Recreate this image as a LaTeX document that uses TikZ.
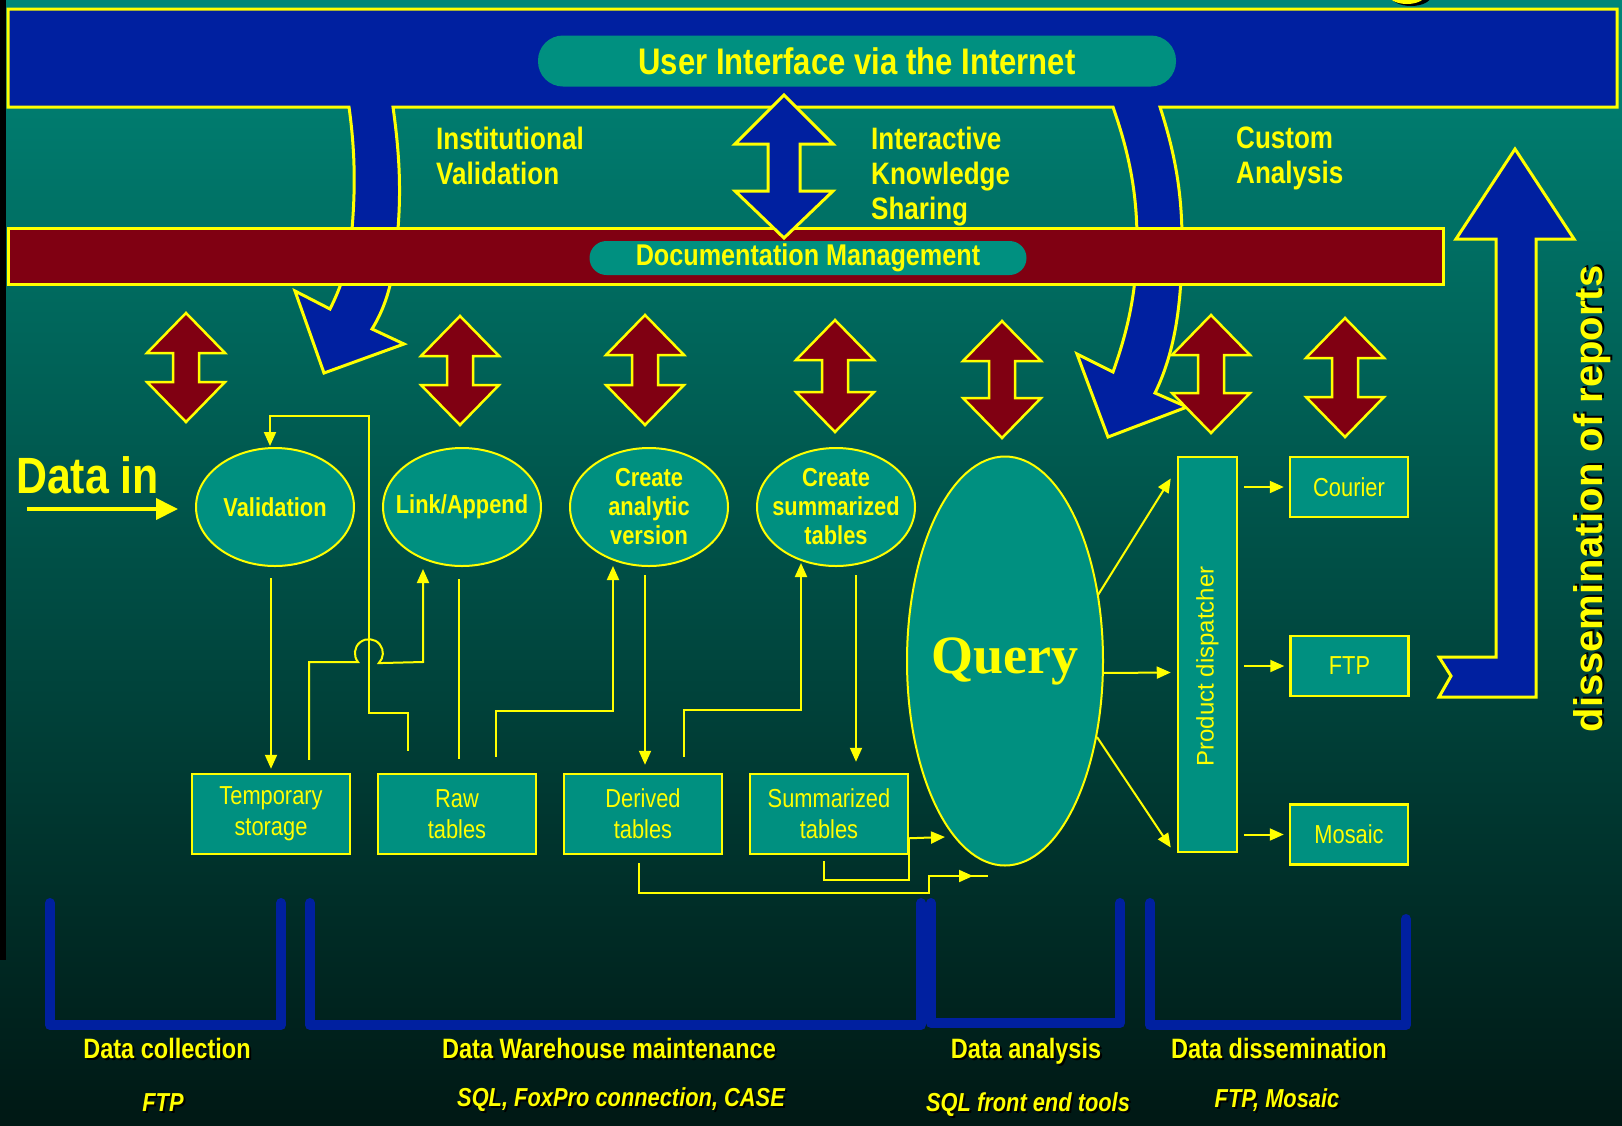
\documentclass[tikz,border=0pt]{standalone}
\usepackage{fontspec}
\setmainfont{Liberation Sans}
\newfontfamily\narrowsf[FakeStretch=0.84]{Liberation Sans}
\newfontfamily\queryfont{Liberation Serif}
\usepackage{tikz}
\usetikzlibrary{shapes.geometric, arrows.meta, positioning, calc}

\definecolor{bgtop}{RGB}{0,134,120}
\definecolor{bgmid}{RGB}{0,82,72}
\definecolor{bgbot}{RGB}{0,24,20}
\definecolor{bandblue}{RGB}{0,32,160}
\definecolor{bandred}{RGB}{128,0,18}
\definecolor{tealbox}{RGB}{0,144,128}
\definecolor{yel}{RGB}{255,255,0}

\newcommand{\shadowed}[1]{\makebox[0pt][l]{\hspace{2pt}\raisebox{-2pt}{\color{black}#1}}#1}

\begin{document}
\begin{tikzpicture}[x=1pt, y=-1pt,
  proc/.style={ellipse, draw=yel, fill=tealbox, line width=2pt, minimum width=158pt, minimum height=118pt, inner xsep=-14pt, inner ysep=-12pt, align=center, text=yel, font=\narrowsf\bfseries\fontsize{26}{29}\selectfont},
  store/.style={rectangle, draw=yel, fill=tealbox, line width=2.5pt, minimum width=158pt, minimum height=80pt, inner sep=0pt, align=center, text=yel, font=\narrowsf\fontsize{26}{31}\selectfont},
  outbox/.style={store, minimum width=118pt, minimum height=60pt},
  pill/.style={rectangle, fill=tealbox, text=yel, inner sep=0pt, font=\narrowsf\bfseries},
  caption/.style={text=yel, align=left, inner sep=0pt, anchor=north west, font=\narrowsf\bfseries\fontsize{31}{35}\selectfont},
  flow/.style={draw=yel, line width=2pt, -{Triangle[length=14pt,width=12pt]}},
  wire/.style={draw=yel, line width=2pt},
  band/.style={draw=yel, line width=3pt, line join=miter},
  vlink/.style={fill=bandred, draw=yel, line width=2.5pt, line join=miter},
  phase/.style={draw=bandblue, line width=10pt, line cap=round, line join=round},
  phaselabel/.style={text=yel, inner sep=0pt, anchor=base, font=\narrowsf\bfseries\fontsize{28}{30}\selectfont},
  tool/.style={text=yel, inner sep=0pt, anchor=base, font=\narrowsf\bfseries\itshape\fontsize{26}{28}\selectfont},
]
% background
\useasboundingbox (0,0) rectangle (1622,1125);
\shade[top color=bgtop, middle color=bgmid, bottom color=bgbot] (0,0) rectangle (1622,1125);
\fill[black] (0,0) rectangle (6,960);
\fill[black] (1411,-4) ellipse [x radius=20, y radius=10];
\fill[yel] (1407,-6) ellipse [x radius=19, y radius=10];

% internet band with its two bent arrows
\filldraw[band, fill=bandblue] (8,9) -- (1617,9) -- (1617,107) -- (1160,107)
  .. controls (1174,150) and (1182,190) .. (1182,240)
  .. controls (1182,300) and (1176,350) .. (1155,393)
  -- (1187,407) -- (1108,437) -- (1077,354) -- (1113,372)
  .. controls (1128,330) and (1137,290) .. (1137,240)
  .. controls (1137,190) and (1128,150) .. (1113,107)
  -- (393,107)
  .. controls (399,150) and (402,190) .. (397,240)
  .. controls (394,270) and (390,300) .. (372,329)
  -- (404,344) -- (324,373) -- (295,291) -- (330,309)
  .. controls (342,285) and (348,265) .. (351,240)
  .. controls (356,190) and (355,150) .. (349,107)
  -- (8,107) -- cycle;
\node[pill, rounded corners=25pt, minimum width=638pt, minimum height=51pt, font=\narrowsf\bfseries\fontsize{37}{40}\selectfont] (ui) at (857,61) {User Interface via the Internet};

% documentation band
\filldraw[band, fill=bandred] (8,228) rectangle (1443,284);
\node[pill, rounded corners=17pt, minimum width=437pt, minimum height=34pt, font=\narrowsf\bfseries\fontsize{30}{32}\selectfont] (doc) at (808,258) {Documentation Management};

% interactive knowledge sharing
\filldraw[band, fill=bandblue] (784,95) -- (833,144) -- (800,144) -- (800,191) -- (833,191)
  -- (784,238) -- (735,191) -- (768,191) -- (768,144) -- (735,144) -- cycle;

\node[caption] (instval) at (436,127) {Institutional\\Validation};
\node[caption] (iks) at (871,127) {Interactive\\Knowledge\\Sharing};
\node[caption] (custom) at (1236,127) {Custom\\Analysis};

% links to documentation
\foreach \x/\t/\b in {186/313/422, 460/316/425, 645/315/425, 835/320/432, 1002/321/438, 1211/315/433, 1345/318/437}
  \filldraw[vlink] (\x,\t) -- ++(39,40) -- ++(-26,0) -- (\x+13,\b-40) -- ++(26,0) -- (\x,\b)
    -- ++(-39,-40) -- ++(26,0) -- (\x-13,\t+40) -- ++(-26,0) -- cycle;

% processes
\node[proc] (val) at (275,507) {Validation};
\node[proc, right=27pt of val] (link) {Link/Append};
\node[proc, right=27pt of link] (ana) {Create\\analytic\\version};
\node[proc, right=27pt of ana] (sum) {Create\\summarized\\tables};

% storage
\node[store] (tmp) at (271,814) {Temporary\\storage};
\node[store, right=25.5pt of tmp] (raw) {Raw\\tables};
\node[store, right=25.5pt of raw] (der) {Derived\\tables};
\node[store, right=25.5pt of der] (smt) {Summarized\\tables};

% analysis and dissemination
\node[proc, minimum width=196pt, minimum height=409pt, font=\queryfont\bfseries\fontsize{54}{60}\selectfont] (query) at (1005,661) {\raisebox{6pt}{Query}};
\node[store, minimum width=59pt, minimum height=395pt, font=\fontsize{24}{28}\selectfont] (disp) at (1207.5,654.5) {\rotatebox{90}{Product dispatcher\hspace*{24pt}}};
\node[outbox] (cour) at (1349,487) {Courier};
\node[outbox] (ftp) at (1349.5,666) {FTP};
\node[outbox] (mos) at (1349,834.5) {Mosaic};

% data in
\node[text=yel, anchor=base west, inner sep=0pt, font=\narrowsf\bfseries\fontsize{51}{55}\selectfont] (datain) at (16,493) {Data in};
\draw[draw=yel, line width=4pt, -{Triangle[length=22pt,width=21pt]}] ($(val.west)+(-168,2)$) -- ($(val.west)+(-17,2)$);

% flows between processes and tables
\draw[flow] ($(tmp.north |- val.south)+(0,11)$) -- ($(tmp.north)+(0,-4)$);
\draw[flow] ($(tmp.north)+(38,-13)$) |- (358,662) arc[start angle=141, end angle=405, radius=14] -- (423,662) -- ($(link.south)+(-39,2)$);
\draw[flow] ($(raw.north)+(-49,-22)$) |- (369,713) |- (270,416) -- ($(val.north)+(-5,-1)$);
\draw[wire] ($(raw.north |- link.south)+(2,12)$) -- ($(raw.north)+(2,-14)$);
\draw[flow] ($(raw.north)+(39,-16)$) |- (613,711) -- ($(ana.south)+(-36,-1)$);
\draw[flow] ($(der.north |- ana.south)+(2,8)$) -- ($(der.north)+(2,-8)$);
\draw[flow] ($(der.north)+(41,-16)$) |- (801,710) -- ($(sum.south)+(-35,-4)$);
\draw[flow] ($(smt.north |- sum.south)+(27,8)$) -- ($(smt.north)+(27,-11)$);

% tables to query
\coordinate (qin) at (988,876);
\draw[flow] ($(smt.south east)+(0,-17)$) -- ($(query.center)+(-60,176)$);
\draw[wire] ($(smt.south)+(-5,6)$) |- ($(smt.south east)+(0,25)$) -- ($(smt.south east)+(0,-17)$);
\draw[wire] ($(der.south)+(-4,8)$) |- (929,893) |- (qin);
\draw[flow] ($(qin)+(-30,0)$) -- ($(qin)+(-15,0)$);

% query to dispatcher to products
\draw[flow] ($(query.center)+(93,-66)$) -- ($(disp.west)+(-6,-176)$);
\draw[flow] ($(query.east)+(-2,12)$) -- ($(disp.west)+(-6,18)$);
\draw[flow] ($(query.center)+(92,76)$) -- ($(disp.west)+(-6,193)$);
\foreach \b in {cour, ftp, mos}
  \draw[flow] ($(disp.east |- \b.west)+(6,0)$) -- ($(\b.west)+(-5,0)$);

% dissemination of reports
\filldraw[band, fill=bandblue] (1439,657) -- (1496,657) -- (1496,239) -- (1456,239) -- (1515,149)
  -- (1574,239) -- (1536,239) -- (1536,697) -- (1439,697) -- (1451,676) -- cycle;
\node[rotate=90, text=yel, inner sep=0pt, font=\bfseries\fontsize{40}{44}\selectfont] (dissem) at (1593,499) {\shadowed{dissemination of reports}};

% phases
\draw[phase] (50,903) -- (50,1025) -- (281,1025) -- (281,903);
\draw[phase] (310,903) -- (310,1025) -- (921,1025) -- (921,903);
\draw[phase] (931,903) -- (931,1023) -- (1120,1023) -- (1120,903);
\draw[phase] (1150,903) -- (1150,1025) -- (1406,1025) -- (1406,919);

\node[phaselabel] (pcoll) at (167,1058) {\shadowed{Data collection}};
\node[phaselabel] (pware) at (609,1058) {\shadowed{Data Warehouse maintenance}};
\node[phaselabel] (pana) at (1026,1058) {\shadowed{Data analysis}};
\node[phaselabel] (pdiss) at (1279,1058) {\shadowed{Data dissemination}};

\node[tool] (tcoll) at (163,1111) {\shadowed{FTP}};
\node[tool] (tware) at (621,1106) {\shadowed{SQL, FoxPro connection, CASE}};
\node[tool] (tana) at (1028,1111) {\shadowed{SQL front end tools}};
\node[tool] (tdiss) at (1277,1107) {\shadowed{FTP, Mosaic}};
\end{tikzpicture}
\end{document}
